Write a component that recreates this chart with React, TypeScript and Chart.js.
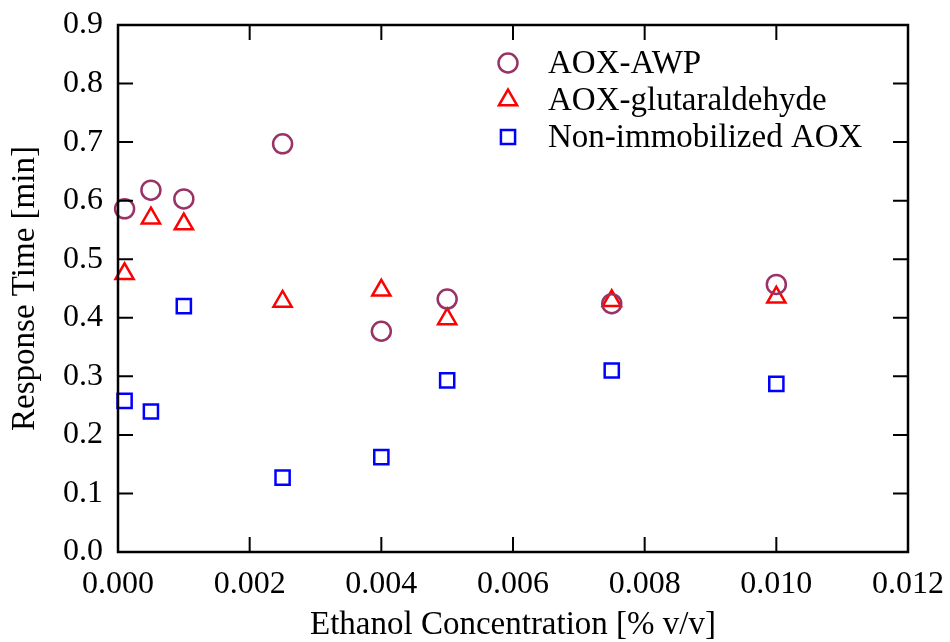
import React, { useEffect, useRef } from "react";
import { Chart, registerables } from "chart.js";

Chart.register(...registerables);

const concentrations = [0.0001, 0.0005, 0.001, 0.0025, 0.004, 0.005, 0.0075, 0.01];
const awpTimes = [0.586, 0.618, 0.603, 0.697, 0.377, 0.432, 0.424, 0.457];
const glutTimes = [0.475, 0.570, 0.560, 0.428, 0.447, 0.398, 0.429, 0.435];
const freeTimes = [0.258, 0.240, 0.420, 0.127, 0.162, 0.293, 0.310, 0.287];
const seriesLabels = ["AOX-AWP", "AOX-glutaraldehyde", "Non-immobilized AOX"];
const xTickValues = [0, 0.002, 0.004, 0.006, 0.008, 0.01, 0.012];
const yTickValues = [0, 0.1, 0.2, 0.3, 0.4, 0.5, 0.6, 0.7, 0.8, 0.9];
const xTitle = "Ethanol Concentration [% v/v]";
const yTitle = "Response Time [min]";

const FONT = "'Liberation Serif', 'Times New Roman', serif";

function drawMarker(ctx: CanvasRenderingContext2D, style: string, x: number, y: number, r: number) {
  ctx.beginPath();
  if (style === "circle") {
    ctx.arc(x, y, r, 0, Math.PI * 2);
  } else if (style === "triangle") {
    let rad = 0;
    ctx.moveTo(x + Math.sin(rad) * r, y - Math.cos(rad) * r);
    rad += (2 * Math.PI) / 3;
    ctx.lineTo(x + Math.sin(rad) * r, y - Math.cos(rad) * r);
    rad += (2 * Math.PI) / 3;
    ctx.lineTo(x + Math.sin(rad) * r, y - Math.cos(rad) * r);
    ctx.closePath();
  } else {
    const s = r * Math.SQRT1_2;
    ctx.rect(x - s, y - s, 2 * s, 2 * s);
  }
  ctx.stroke();
}

const framePlugin = {
  id: "frameTicks",
  afterDatasetsDraw(chart: any) {
    const { ctx, chartArea } = chart;
    const { left, right, top, bottom } = chartArea;
    const xs = chart.scales.x;
    const ys = chart.scales.y;
    const tl = 15;
    ctx.save();
    ctx.strokeStyle = "#000";
    ctx.lineWidth = 2;
    ctx.beginPath();
    xTickValues.forEach((v) => {
      const px = xs.getPixelForValue(v);
      if (px <= left + 1 || px >= right - 1) return;
      ctx.moveTo(px, bottom);
      ctx.lineTo(px, bottom - tl);
      ctx.moveTo(px, top);
      ctx.lineTo(px, top + tl);
    });
    yTickValues.forEach((v) => {
      const py = ys.getPixelForValue(v);
      if (py <= top + 1 || py >= bottom - 1) return;
      ctx.moveTo(left, py);
      ctx.lineTo(left + tl, py);
      ctx.moveTo(right, py);
      ctx.lineTo(right - tl, py);
    });
    ctx.stroke();
    ctx.lineWidth = 2.5;
    ctx.strokeRect(left, top, right - left, bottom - top);
    ctx.restore();
  },
  afterDraw(chart: any) {
    const { ctx } = chart;
    const rows = [63, 100, 137];
    ctx.save();
    chart.data.datasets.forEach((ds: any, i: number) => {
      const y = rows[i];
      ctx.strokeStyle = ds.borderColor;
      ctx.lineWidth = ds.borderWidth;
      drawMarker(ctx, ds.pointStyle, 508, y, ds.pointRadius);
      ctx.fillStyle = "#000";
      ctx.font = `33px ${FONT}`;
      ctx.textAlign = "left";
      ctx.textBaseline = "middle";
      ctx.fillText(ds.label, 548, y + 1);
    });
    ctx.restore();
  },
};

function toPoints(ys: number[]) {
  return concentrations.map((x, i) => ({ x, y: ys[i] }));
}

export default function App() {
  const canvasRef = useRef<HTMLCanvasElement | null>(null);

  useEffect(() => {
    document.body.style.margin = "0";
    const canvas = canvasRef.current;
    if (!canvas) return;
    const chart = new Chart(canvas, {
      type: "scatter",
      data: {
        datasets: [
          {
            label: seriesLabels[0],
            data: toPoints(awpTimes),
            pointStyle: "circle",
            pointRadius: 9.5,
            borderColor: "#993366",
            backgroundColor: "rgba(0,0,0,0)",
            borderWidth: 2.5,
            clip: false,
          },
          {
            label: seriesLabels[1],
            data: toPoints(glutTimes),
            pointStyle: "triangle",
            pointRadius: 10.5,
            borderColor: "#ff0000",
            backgroundColor: "rgba(0,0,0,0)",
            borderWidth: 2.5,
            clip: false,
          },
          {
            label: seriesLabels[2],
            data: toPoints(freeTimes),
            pointStyle: "rect",
            pointRadius: 10,
            borderColor: "#0000ff",
            backgroundColor: "rgba(0,0,0,0)",
            borderWidth: 2.5,
            clip: false,
          },
        ] as any,
      },
      options: {
        animation: false,
        responsive: false,
        maintainAspectRatio: false,
        layout: { padding: { top: 25, right: 42, left: 0, bottom: 0 } },
        plugins: {
          legend: { display: false },
          tooltip: { enabled: false },
        },
        scales: {
          x: {
            type: "linear",
            min: 0,
            max: 0.012,
            afterFit: (s: any) => {
              s.height = 90;
              s.paddingLeft = 0;
              s.paddingRight = 0;
            },
            afterBuildTicks: (s: any) => {
              s.ticks = xTickValues.map((v) => ({ value: v }));
            },
            ticks: {
              padding: 13,
              color: "#000",
              font: { family: FONT, size: 32 },
              callback: (v: any) => Number(v).toFixed(3),
              maxRotation: 0,
            },
            grid: { display: false, drawTicks: false },
            border: { display: false },
            title: {
              display: true,
              text: xTitle,
              color: "#000",
              font: { family: FONT, size: 33, lineHeight: 1 },
              padding: { top: 0, bottom: 0 },
            },
          },
          y: {
            type: "linear",
            min: 0,
            max: 0.9,
            afterFit: (s: any) => {
              s.width = 118;
              s.paddingTop = 0;
              s.paddingBottom = 0;
            },
            afterBuildTicks: (s: any) => {
              s.ticks = yTickValues.map((v) => ({ value: v }));
            },
            ticks: {
              padding: 15,
              color: "#000",
              font: { family: FONT, size: 32 },
              callback: (v: any) => Number(v).toFixed(1),
            },
            grid: { display: false, drawTicks: false },
            border: { display: false },
            title: {
              display: true,
              text: yTitle,
              color: "#000",
              font: { family: FONT, size: 33, lineHeight: 1 },
              padding: { top: 9, bottom: 0 },
            },
          },
        },
      },
      plugins: [framePlugin],
    });
    return () => chart.destroy();
  }, []);

  return (
    <div style={{ position: "absolute", left: 0, top: 0, width: 950, height: 642, background: "#fff" }}>
      <canvas ref={canvasRef} width={950} height={642} style={{ width: 950, height: 642 }} />
    </div>
  );
}
